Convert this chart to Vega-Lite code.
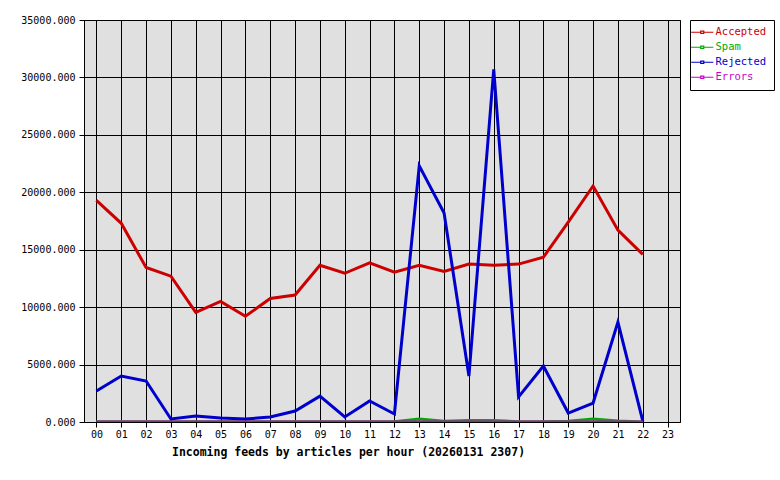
{
  "$schema": "https://vega.github.io/schema/vega-lite/v6.json",
  "width": 596,
  "height": 402,
  "autosize": {"type": "none"},
  "padding": {"left": 84, "top": 20, "right": 100, "bottom": 58},
  "background": "white",
  "config": {
    "view": {"fill": "#e0e0e0", "stroke": "black", "strokeWidth": 1},
    "font": "DejaVu Sans Mono"
  },
  "data": {
    "values": [
      {"hour": "00", "Accepted": 19300, "Spam": 20, "Rejected": 2700, "Errors": 0},
      {"hour": "01", "Accepted": 17300, "Spam": 20, "Rejected": 4000, "Errors": 0},
      {"hour": "02", "Accepted": 13450, "Spam": 20, "Rejected": 3570, "Errors": 0},
      {"hour": "03", "Accepted": 12700, "Spam": 20, "Rejected": 260, "Errors": 0},
      {"hour": "04", "Accepted": 9550, "Spam": 20, "Rejected": 520, "Errors": 0},
      {"hour": "05", "Accepted": 10500, "Spam": 20, "Rejected": 350, "Errors": 0},
      {"hour": "06", "Accepted": 9200, "Spam": 20, "Rejected": 260, "Errors": 0},
      {"hour": "07", "Accepted": 10750, "Spam": 20, "Rejected": 435, "Errors": 0},
      {"hour": "08", "Accepted": 11050, "Spam": 20, "Rejected": 960, "Errors": 0},
      {"hour": "09", "Accepted": 13650, "Spam": 20, "Rejected": 2250, "Errors": 0},
      {"hour": "10", "Accepted": 12950, "Spam": 20, "Rejected": 435, "Errors": 0},
      {"hour": "11", "Accepted": 13850, "Spam": 20, "Rejected": 1830, "Errors": 0},
      {"hour": "12", "Accepted": 13050, "Spam": 30, "Rejected": 700, "Errors": 0},
      {"hour": "13", "Accepted": 13650, "Spam": 250, "Rejected": 22300, "Errors": 0},
      {"hour": "14", "Accepted": 13100, "Spam": 60, "Rejected": 18200, "Errors": 0},
      {"hour": "15", "Accepted": 13750, "Spam": 120, "Rejected": 4000, "Errors": 0},
      {"hour": "16", "Accepted": 13650, "Spam": 120, "Rejected": 30700, "Errors": 0},
      {"hour": "17", "Accepted": 13750, "Spam": 30, "Rejected": 2180, "Errors": 0},
      {"hour": "18", "Accepted": 14350, "Spam": 20, "Rejected": 4880, "Errors": 0},
      {"hour": "19", "Accepted": 17400, "Spam": 60, "Rejected": 780, "Errors": 0},
      {"hour": "20", "Accepted": 20550, "Spam": 250, "Rejected": 1650, "Errors": 0},
      {"hour": "21", "Accepted": 16700, "Spam": 80, "Rejected": 8700, "Errors": 0},
      {"hour": "22", "Accepted": 14600, "Spam": 10, "Rejected": 100, "Errors": 0},
      {"hour": "23"}
    ]
  },
  "transform": [
    {"fold": ["Accepted", "Spam", "Rejected", "Errors"], "as": ["series", "value"]},
    {"filter": "isValid(datum.value)"}
  ],
  "mark": {"type": "line", "strokeWidth": 3, "clip": true},
  "encoding": {
    "x": {
      "field": "hour",
      "type": "ordinal",
      "scale": {"type": "point", "padding": 0.5, "domain": ["00","01","02","03","04","05","06","07","08","09","10","11","12","13","14","15","16","17","18","19","20","21","22","23"]},
      "axis": {
        "title": "Incoming feeds by articles per hour (20260131 2307)",
        "titleFont": "DejaVu Sans Mono",
        "titleFontSize": 11.5,
        "titleFontWeight": "bold",
        "titleColor": "black",
        "titleAnchor": null,
        "titleAlign": "center",
        "titleBaseline": "middle",
        "titleX": 264,
        "titleY": 30,
        "labelAngle": 0,
        "labelFont": "DejaVu Sans Mono",
        "labelFontSize": 10,
        "labelColor": "black",
        "labelPadding": 2,
        "labelBaseline": "top",
        "tickSize": 5,
        "tickColor": "black",
        "domainColor": "black",
        "grid": true,
        "gridColor": "black",
        "gridOpacity": 1,
        "gridWidth": 1
      }
    },
    "y": {
      "field": "value",
      "type": "quantitative",
      "scale": {"domain": [0, 35000], "nice": false},
      "axis": {
        "title": null,
        "values": [0, 5000, 10000, 15000, 20000, 25000, 30000, 35000],
        "format": ".3f",
        "labelFont": "DejaVu Sans Mono",
        "labelFontSize": 10,
        "labelColor": "black",
        "labelPadding": 4,
        "tickSize": 5,
        "tickColor": "black",
        "domainColor": "black",
        "grid": true,
        "gridColor": "black",
        "gridOpacity": 1,
        "gridWidth": 1
      }
    },
    "color": {
      "field": "series",
      "type": "nominal",
      "scale": {"domain": ["Accepted", "Spam", "Rejected", "Errors"], "range": ["#cc0000", "#00aa00", "#0000cc", "#cc00cc"]},
      "legend": {
        "title": null,
        "orient": "none",
        "legendX": 606,
        "legendY": 0,
        "fillColor": "white",
        "strokeColor": "black",
        "padding": 7,
        "rowPadding": 4,
        "labelFont": "DejaVu Sans Mono",
        "labelFontSize": 10.5,
        "labelOffset": 8,
        "symbolType": "M-3.7,0H-0.5M0.5,0H3.7M-0.5,-0.4H0.5V0.4H-0.5Z",
        "symbolSize": 36,
        "symbolStrokeWidth": 1.2,
        "symbolFillColor": "transparent",
        "encode": {
          "labels": {"update": {"fill": {"scale": "color", "field": "value"}}}
        }
      }
    }
  }
}
